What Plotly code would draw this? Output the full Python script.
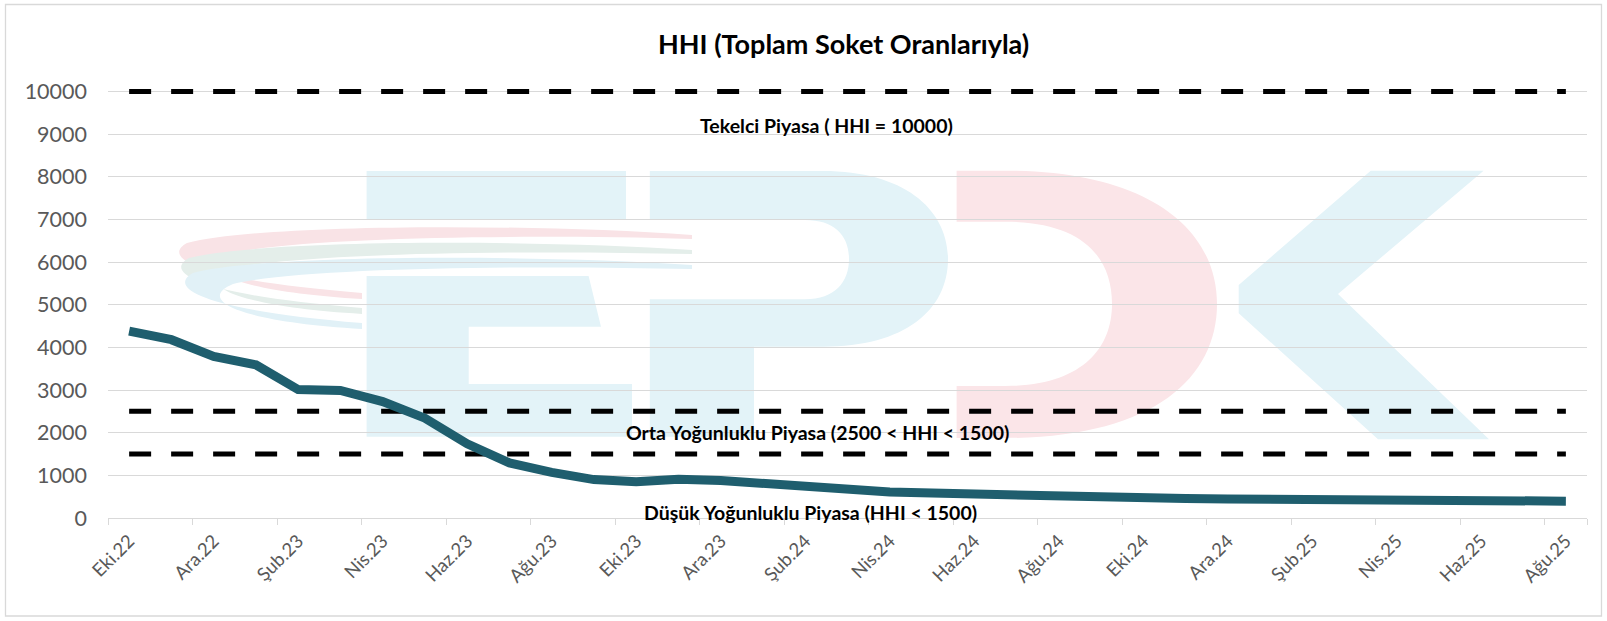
import plotly.graph_objects as go

# ---------------- data ----------------
months = ["Eki.22", "Kas.22", "Ara.22", "Oca.23", "Şub.23", "Mar.23", "Nis.23", "May.23",
          "Haz.23", "Tem.23", "Ağu.23", "Eyl.23", "Eki.23", "Kas.23", "Ara.23", "Oca.24",
          "Şub.24", "Mar.24", "Nis.24", "May.24", "Haz.24", "Tem.24", "Ağu.24", "Eyl.24",
          "Eki.24", "Kas.24", "Ara.24", "Oca.25", "Şub.25", "Mar.25", "Nis.25", "May.25",
          "Haz.25", "Tem.25", "Ağu.25"]
hhi = [4380, 4180, 3790, 3590, 3010, 2990, 2730, 2340, 1740, 1290, 1070, 900, 850, 910, 880,
       800, 730, 640, 610, 585, 555, 525, 505, 480, 460, 455, 448, 440, 432, 425, 418, 410,
       405, 400, 395]
tekelci = [10000] * len(months)
orta_ust = [2500] * len(months)
orta_alt = [1500] * len(months)
y_ticks = [0, 1000, 2000, 3000, 4000, 5000, 6000, 7000, 8000, 9000, 10000]
y_tick_text = ["0", "1000", "2000", "3000", "4000", "5000", "6000", "7000", "8000", "9000", "10000"]
x_ticks = months[::2]

title_text = "HHI (Toplam Soket Oranlarıyla)"
label_tekelci = "Tekelci Piyasa ( HHI = 10000)"
label_orta = "Orta Yoğunluklu Piyasa (2500 < HHI < 1500)"
label_dusuk = "Düşük Yoğunluklu Piyasa (HHI < 1500)"

# ---------------- layout geometry ----------------
W, H = 1607, 621
ML, MR, MT, MB = 108, 20, 88, 103
PW, PH = W - ML - MR, H - MT - MB
FONT = "Lato, 'Open Sans', sans-serif"


def pp(x, y):
    """pixel -> paper coordinate string"""
    return f"{(x - ML) / PW:.5f},{(H - MB - y) / PH:.5f}"


def px(x):
    return (x - ML) / PW


def py(y):
    return (H - MB - y) / PH


fig = go.Figure()

for vals in (tekelci, orta_ust, orta_alt):
    fig.add_trace(go.Scatter(x=months, y=vals, mode="lines",
                             line=dict(color="black", width=5, dash="22px,20px"),
                             hoverinfo="skip", showlegend=False))

fig.add_trace(go.Scatter(x=months, y=hhi, mode="lines",
                         line=dict(color="#1F5E6E", width=9),
                         showlegend=False, name="HHI"))

# ---------------- watermark (EPDK logo) ----------------
blue = "#E3F3F8"
pink = "#FBE5E8"
shapes = []


def path(d, color):
    shapes.append(dict(type="path", xref="paper", yref="paper", path=d,
                       fillcolor=color, line=dict(width=0), layer="below"))


# E
path(f"M{pp(366.6,171)} L{pp(626,171)} L{pp(626,220)} L{pp(366.6,220)} Z", blue)
path(f"M{pp(366.6,276)} L{pp(588.6,276)} L{pp(601,326.7)} L{pp(468.7,326.7)} "
     f"L{pp(468.7,384)} L{pp(632,384)} L{pp(632,436.7)} L{pp(366.6,436.7)} Z", blue)
# P
path(f"M{pp(649.8,171)} L{pp(823,171)} C{pp(905,171)} {pp(948,210)} {pp(948,259)} "
     f"C{pp(948,310)} {pp(905,346.7)} {pp(823,346.7)} L{pp(754,346.7)} L{pp(754,436.7)} "
     f"L{pp(649.8,436.7)} L{pp(649.8,299.3)} L{pp(805,299.3)} "
     f"C{pp(835,299.3)} {pp(849,282)} {pp(849,259)} C{pp(849,236)} {pp(835,220)} {pp(805,220)} "
     f"L{pp(649.8,220)} Z", blue)
# D
path(f"M{pp(956.6,170.7)} L{pp(1005,170.7)} C{pp(1150,170.7)} {pp(1217,230)} {pp(1217,304)} "
     f"C{pp(1217,380)} {pp(1150,438)} {pp(1005,438)} L{pp(956.6,438)} L{pp(956.6,386)} "
     f"L{pp(1005,386)} C{pp(1080,386)} {pp(1112,350)} {pp(1112,304)} "
     f"C{pp(1112,255)} {pp(1080,221.7)} {pp(1005,221.7)} L{pp(956.6,221.7)} Z", pink)
# K
path(f"M{pp(1370.7,170.7)} L{pp(1483.6,170.7)} L{pp(1338,294)} L{pp(1489,439.3)} "
     f"L{pp(1378,439.3)} L{pp(1238.7,313.3)} L{pp(1238.7,285)} Z", blue)
# swooshes
for (tip_y, top_y, left_x, left_y, tail_y, col) in [
        (237, 227, 177, 260, 296, "#F9E3E6"),
        (252, 243, 179, 275, 311, "#E4EEEA"),
        (267, 258, 183, 290, 326, "#E1F1F7")]:
    path(f"M{pp(692,tip_y-2)} C{pp(520,top_y-4)} {pp(260,top_y-3)} {pp(left_x+10,left_y-17)} "
         f"C{pp(left_x-14,left_y-4)} {pp(left_x+10,left_y+19)} {pp(362,tail_y-3)} "
         f"L{pp(362,tail_y+3)} C{pp(240,tail_y-4)} {pp(left_x+12,left_y+10)} {pp(left_x+50,left_y-6)} "
         f"C{pp(300,top_y+10)} {pp(520,top_y+7)} {pp(692,tip_y+2)} Z", col)

# chart border
shapes.append(dict(type="rect", xref="paper", yref="paper",
                   x0=px(5.5), x1=px(1601.5), y0=py(616), y1=py(4.5),
                   line=dict(color="#D9D9D9", width=1.3), fillcolor="rgba(0,0,0,0)",
                   layer="below"))

annotations = [
    dict(text=f"<b>{title_text}</b>", x=px(843), y=py(43), xref="paper", yref="paper",
         showarrow=False, font=dict(family=FONT, size=27, color="#000000"),
         xanchor="center", yanchor="middle"),
    dict(text=f"<b>{label_tekelci}</b>", x=px(826), y=py(126), xref="paper", yref="paper",
         showarrow=False, font=dict(family=FONT, size=19.5, color="#000000"),
         xanchor="center", yanchor="middle"),
    dict(text=f"<b>{label_orta}</b>", x=px(817), y=py(432), xref="paper", yref="paper",
         showarrow=False, font=dict(family=FONT, size=19.5, color="#000000"),
         xanchor="center", yanchor="middle"),
    dict(text=f"<b>{label_dusuk}</b>", x=px(810), y=py(512), xref="paper", yref="paper",
         showarrow=False, font=dict(family=FONT, size=19.5, color="#000000"),
         xanchor="center", yanchor="middle"),
]

fig.update_layout(
    width=W, height=H,
    margin=dict(l=ML, r=MR, t=MT, b=MB, pad=0),
    paper_bgcolor="white", plot_bgcolor="rgba(0,0,0,0)",
    shapes=shapes, annotations=annotations,
    showlegend=False,
    font=dict(family=FONT, color="#595959"),
)
fig.update_xaxes(type="category", categoryorder="array", categoryarray=months,
                 range=[-0.5, len(months) - 0.5],
                 tickmode="array", tickvals=x_ticks, ticktext=x_ticks,
                 tickangle=-45, tickfont=dict(family=FONT, size=18.5, color="#595959"),
                 showgrid=False, showline=True, linecolor="#D9D9D9", linewidth=1,
                 ticks="outside", tickson="boundaries", ticklen=6, tickcolor="#D9D9D9",
                 ticklabelstandoff=4, zeroline=False)
fig.update_yaxes(range=[0, 10080], tickmode="array", tickvals=y_ticks, ticktext=y_tick_text,
                 tickfont=dict(family=FONT, size=21.5, color="#595959"),
                 showgrid=True, gridcolor="#D9D9D9", gridwidth=1,
                 showline=False, zeroline=False, ticks="", ticklabelstandoff=20)

fig.write_html("out.html", config={"displayModeBar": False},
               post_script="document.body.style.margin='0';document.body.style.padding='0';")
